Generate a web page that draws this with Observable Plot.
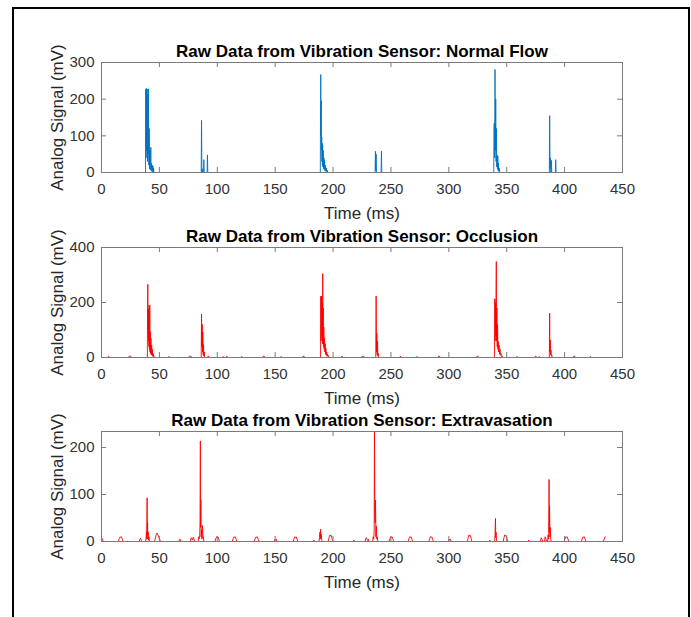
<!DOCTYPE html>
<html><head><meta charset="utf-8">
<script src="https://cdn.jsdelivr.net/npm/d3@7"></script>
<script src="https://cdn.jsdelivr.net/npm/@observablehq/plot@0.6"></script>
<style>
html,body{margin:0;padding:0;width:691px;height:617px;overflow:hidden;background:#fff;}
#fig{position:relative;width:691px;height:617px;overflow:hidden;}
#border{position:absolute;left:12px;top:7px;width:674px;height:700px;border:2px solid #000;}
.panel{position:absolute;left:0;}
</style></head><body><div id="fig"><div id="border"></div></div>
<script>
const xTicks = [0, 50, 100, 150, 200, 250, 300, 350, 400, 450];
const normalTicks = [0, 100, 200, 300];
const occlusionTicks = [0, 200, 400];
const extravTicks = [0, 100, 200];
const titles = [
  "Raw Data from Vibration Sensor: Normal Flow",
  "Raw Data from Vibration Sensor: Occlusion",
  "Raw Data from Vibration Sensor: Extravasation"
];
const xLabel = "Time (ms)";
const yLabel = "Analog Signal (mV)";

// [time (ms), signal (mV)]
const normalFlow = [
[0,0],[38.0,0],[38.2,228],[38.5,40],[38.8,229],[39.1,60],[39.4,228],[39.7,30],[40.0,214],[40.3,50],[40.6,228],[40.9,20],[41.2,120],[41.5,10],[41.8,60],[42.1,8],[42.4,45],[42.6,69],[42.9,5],[43.2,25],[43.5,3],[43.8,20],[44.1,2],[44.4,18],[44.7,1],[45.0,12],[45.3,0],
[86.1,0],[86.4,142],[86.7,0],[87.0,10],[87.3,0],[88.1,0],[88.4,35],[88.7,0],[91.2,0],[91.5,48],[91.8,0],
[189.0,0],[189.2,196],[189.4,267],[189.6,100],[189.8,196],[190.0,60],[190.2,96],[190.4,30],[190.6,80],[190.8,20],[191.0,74],[191.2,15],[191.5,60],[191.8,10],[192.1,40],[192.4,8],[192.7,33],[193.0,5],[193.4,20],[193.8,3],[194.2,12],[194.6,2],[195.0,6],[195.3,0],
[236.3,0],[236.6,58],[236.9,5],[237.2,50],[237.5,0],[241.5,0],[241.8,58],[242.1,0],
[338.8,0],[339.0,124],[339.3,135],[339.6,40],[339.9,281],[340.2,60],[340.5,200],[340.8,30],[341.1,120],[341.4,15],[341.7,47],[342.0,10],[342.3,45],[342.6,5],[342.9,25],[343.2,3],[343.6,12],[344.0,0],
[386.8,0],[387.1,155],[387.4,10],[387.7,40],[388.0,0],[388.3,0],[388.6,33],[388.9,0],[392.0,0],[392.3,35],[392.6,0],
[435,0]
];

const occlusion = [
[0,0],[5.5,0],[6.0,4],[6.5,3],[7.0,0],[23.3,0],[23.9,5],[24.6,4],[25.2,5],[25.8,0],
[39.6,0],[39.8,180],[40.0,266],[40.2,100],[40.4,175],[40.6,60],[40.8,140],[41.0,40],[41.2,190],[41.4,30],[41.7,190],[41.9,20],[42.1,94],[42.4,15],[42.7,70],[43.0,10],[43.3,45],[43.6,8],[43.9,30],[44.2,5],[44.5,15],[44.8,3],[45.1,8],[45.4,0],
[57.8,0],[58.3,4],[58.8,0],[75.4,0],[76.0,5],[76.7,4],[77.3,5],[77.9,0],
[86.1,0],[86.4,158],[86.7,40],[87.0,120],[87.3,20],[87.5,92],[87.8,10],[88.1,47],[88.4,5],[88.7,20],[89.0,0],
[91.8,0],[92.2,6],[92.6,0],[104.6,0],[105.1,4],[105.6,0],[107.6,0],[108.2,5],[108.8,0],[120.6,0],[121.2,4],[121.8,0],[139.2,0],[139.8,5],[140.5,5],[141.1,0],[154.6,0],[155.2,4],[155.8,0],[173.6,0],[174.2,5],[174.9,5],[175.5,0],
[189.2,0],[189.4,223],[189.7,60],[190.0,223],[190.3,80],[190.6,200],[190.9,50],[191.1,305],[191.3,70],[191.5,180],[191.8,40],[192.0,110],[192.3,30],[192.6,70],[192.9,20],[193.2,50],[193.5,12],[193.8,33],[194.1,8],[194.5,20],[194.9,5],[195.3,12],[195.7,3],[196.1,6],[196.5,0],
[207.3,0],[207.8,5],[208.3,0],[224.5,0],[225.1,5],[225.7,4],[226.3,5],[226.9,0],
[236.9,0],[237.2,223],[237.5,20],[237.8,88],[238.1,10],[238.4,60],[238.7,5],[239.0,15],[239.3,0],
[257.6,0],[258.2,5],[258.8,0],[272.1,0],[272.6,4],[273.1,0],[290.6,0],[291.2,5],[291.9,5],[292.5,0],[323.8,0],[324.4,5],[325.1,5],[325.7,0],
[339.4,0],[339.7,214],[340.0,60],[340.3,200],[340.6,80],[341.0,349],[341.2,60],[341.5,180],[341.8,40],[342.1,120],[342.4,30],[342.7,58],[343.0,20],[343.4,45],[343.8,12],[344.2,30],[344.6,8],[345.0,15],[345.5,3],[346.0,6],[346.4,0],
[358.5,0],[359.0,4],[359.5,0],[374.3,0],[374.8,5],[375.4,4],[376.0,0],[377.6,0],[378.1,4],[378.6,0],
[386.8,0],[387.1,161],[387.3,20],[387.6,64],[387.9,10],[388.2,27],[388.5,5],[388.9,10],[389.3,0],
[407.4,0],[408.0,5],[408.7,5],[409.3,0],[421.8,0],[422.3,4],[422.8,0],[435,0]
];

const extravasation = [
[0,8],[0.5,6],[1.0,3],[1.6,0],
[14.6,0],[15.3,6],[16.0,10],[16.6,9],[17.2,10],[18.0,5],[18.7,0],
[32.6,0],[33.1,5],[33.7,7],[34.3,3],[34.9,0],
[38.0,0],[38.5,7],[38.8,21],[39.0,5],[39.2,49],[39.4,93],[39.6,15],[39.8,40],[40.0,5],[40.3,20],[40.6,3],[41.0,10],[41.4,0],
[45.8,0],[46.6,8],[47.3,15],[48.0,18],[48.7,14],[49.4,10],[50.2,5],[51.0,0],
[66.9,0],[67.5,5],[68.1,4],[68.7,0],
[76.8,0],[77.4,8],[78.0,6],[78.6,3],[79.2,9],[79.8,6],[80.4,0],
[83.5,0],[84.0,10],[84.4,6],[84.8,12],[85.1,40],[85.4,214],[85.6,30],[85.8,89],[86.1,10],[86.4,25],[86.8,5],[87.2,34],[87.6,8],[88.0,10],[88.4,0],
[98.0,0],[98.7,6],[99.4,10],[100.0,9],[100.6,10],[101.3,5],[102.0,0],
[113.0,0],[113.7,6],[114.4,10],[115.0,9],[115.6,10],[116.3,5],[117.0,0],
[132.0,0],[132.7,6],[133.4,10],[134.0,9],[134.6,10],[135.3,5],[136.0,0],
[149.2,0],[149.8,5],[150.4,4],[151.0,5],[151.6,0],
[165.6,0],[166.3,6],[167.0,10],[167.6,9],[168.2,10],[168.9,5],[169.6,0],
[182.8,0],[183.4,3],[184.0,0],
[187.8,0],[188.3,8],[188.7,20],[189.0,5],[189.2,26],[189.5,8],[189.8,15],[190.2,3],[190.6,0],
[195.8,0],[196.5,8],[197.2,14],[197.8,12],[198.4,13],[199.1,6],[199.8,0],
[217.3,0],[217.9,3],[218.5,0],
[227.6,0],[228.2,6],[228.8,8],[229.4,4],[230.0,2],[230.6,5],[231.2,0],
[234.2,0],[234.7,10],[235.1,5],[235.5,20],[235.8,234],[236.1,62],[236.4,40],[236.7,88],[237.0,10],[237.4,33],[237.8,5],[238.2,10],[238.6,0],
[248.4,0],[249.1,6],[249.8,10],[250.4,9],[251.0,10],[251.7,5],[252.4,0],
[264.8,0],[265.5,6],[266.2,10],[266.8,9],[267.4,10],[268.1,5],[268.8,0],
[282.7,0],[283.4,6],[284.1,10],[284.7,9],[285.3,10],[286.0,5],[286.7,0],
[299.6,0],[300.2,5],[300.8,4],[301.4,5],[302.0,0],
[316.0,0],[316.7,8],[317.4,14],[318.0,12],[318.6,13],[319.3,6],[320.0,0],
[334.8,0],[335.4,3],[336.0,0],
[339.5,0],[339.9,12],[340.1,33],[340.3,49],[340.5,8],[340.7,20],[341.0,10],[341.4,0],
[346.9,0],[347.6,8],[348.3,14],[348.9,12],[349.5,13],[350.2,6],[350.9,0],
[368.4,0],[369.0,3],[369.6,0],
[379.2,0],[379.8,8],[380.4,5],[381.2,0],[382.6,0],[383.2,10],[383.8,6],[384.4,0],
[385.3,0],[385.8,14],[386.2,5],[386.4,60],[386.6,132],[386.8,20],[387.0,76],[387.3,10],[387.6,30],[388.0,5],[388.4,0],
[399.6,0],[400.3,6],[401.0,10],[401.6,9],[402.2,10],[402.9,5],[403.6,0],
[414.5,0],[415.2,6],[415.9,10],[416.5,9],[417.1,10],[417.8,5],[418.5,0],
[433.4,0],[434.2,5],[435,10]
];

const panels = [
  {data: normalFlow, color: "#0072BD", domain: [0, 300], ticks: normalTicks, title: titles[0], top: 62},
  {data: occlusion, color: "#FF0000", domain: [0, 400], ticks: occlusionTicks, title: titles[1], top: 246.5},
  {data: extravasation, color: "#FF0000", domain: [0, 234], ticks: extravTicks, title: titles[2], top: 430.5}
];

const W = 691, ML = 101, MR = 69, MT = 40, FH = 110, MB = 50;
const FW = W - ML - MR;
const font = "'Liberation Sans', Arial, Helvetica, sans-serif";
const axisGray = "#7a7a7a";

for (const p of panels) {
  const rows = p.data.map(([t, v]) => ({t, v}));
  const svg = Plot.plot({
    width: W, height: MT + FH + MB,
    marginLeft: ML, marginRight: MR, marginTop: MT, marginBottom: MB,
    style: {background: "transparent", fontFamily: font, overflow: "visible"},
    x: {domain: [0, 450]},
    y: {domain: p.domain},
    marks: [
      Plot.line(rows, {x: "t", y: "v", stroke: p.color, strokeWidth: 0.9, clip: true}),
      Plot.frame({stroke: axisGray, strokeWidth: 1}),
      Plot.tickX(xTicks, {x: d => d, insetTop: FH - 5, stroke: axisGray}),
      Plot.tickX(xTicks, {x: d => d, insetBottom: FH - 5, stroke: axisGray}),
      Plot.tickY(p.ticks, {y: d => d, insetRight: FW - 5, stroke: axisGray}),
      Plot.tickY(p.ticks, {y: d => d, insetLeft: FW - 5, stroke: axisGray}),
      Plot.axisX(xTicks, {tickSize: 0, tickPadding: 11, fontSize: 15, fill: "#333", label: null}),
      Plot.axisY(p.ticks, {tickSize: 0, tickPadding: 7, fontSize: 15, fill: "#333", label: null}),
      Plot.text([p.title], {frameAnchor: "top", dy: -11, lineAnchor: "middle", textAnchor: "middle", fontWeight: "bold", fontSize: 17, fill: "#000"}),
      Plot.text([xLabel], {frameAnchor: "bottom", dy: 34, lineAnchor: "top", textAnchor: "middle", fontSize: 17, fill: "#262626"}),
      Plot.text([yLabel], {frameAnchor: "left", dx: -44, rotate: -90, lineAnchor: "middle", textAnchor: "middle", fontSize: 17, fill: "#262626"})
    ]
  });
  const div = document.createElement("div");
  div.className = "panel";
  div.style.top = (p.top - MT) + "px";
  div.appendChild(svg);
  document.getElementById("fig").appendChild(div);
}
</script></body></html>
